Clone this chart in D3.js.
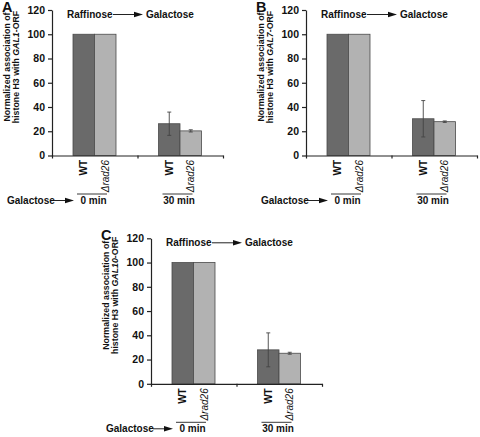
<!DOCTYPE html>
<html><head><meta charset="utf-8">
<script src="https://cdn.jsdelivr.net/npm/d3@7"></script>
<style>
html,body{margin:0;padding:0;background:#fff;}
text{font-family:Arial,"Liberation Sans",sans-serif;}
</style></head>
<body><svg id="c" width="480" height="437"></svg>
<script>
// ---- data ----
const categories = ["0 min", "30 min"];
const strains = ["WT", "Δrad26"];
const panelLetters = ["A", "B", "C"];
const genes = ["GAL1", "GAL7", "GAL10"];
const yTicks = [0, 20, 40, 60, 80, 100, 120];
// values per panel: [0 min, 30 min]
const gal1WT = [100, 26.2], gal1WTErr = [0, 9.6];
const gal1Rad26 = [100, 20.3], gal1Rad26Err = [0, 0.9];
const gal7WT = [100, 30.3], gal7WTErr = [0, 15];
const gal7Rad26 = [100, 27.9], gal7Rad26Err = [0, 0.6];
const gal10WT = [100, 28], gal10WTErr = [0, 14];
const gal10Rad26 = [100, 25.2], gal10Rad26Err = [0, 0.8];

const panels = [
  {letter: panelLetters[0], gene: genes[0], wt: gal1WT, wtE: gal1WTErr, rd: gal1Rad26, rdE: gal1Rad26Err, ox: 0, oy: 0},
  {letter: panelLetters[1], gene: genes[1], wt: gal7WT, wtE: gal7WTErr, rd: gal7Rad26, rdE: gal7Rad26Err, ox: 254, oy: 0},
  {letter: panelLetters[2], gene: genes[2], wt: gal10WT, wtE: gal10WTErr, rd: gal10Rad26, rdE: gal10Rad26Err, ox: 99, oy: 228.3}
];

const colors = {"WT": "#6a6a6a", "Δrad26": "#b2b2b2"};
const svg = d3.select("#c");

function arrow(g, x1, x2, y) {
  g.append("line").attr("x1", x1).attr("x2", x2 - 8).attr("y1", y).attr("y2", y)
    .attr("stroke", "#222").attr("stroke-width", 1);
  g.append("path").attr("d", `M${x2 - 9},${y - 2.8}L${x2},${y}L${x2 - 9},${y + 2.8}Z`).attr("fill", "#111");
}

panels.forEach(p => {
  const g = svg.append("g").attr("transform", `translate(${p.ox},${p.oy})`);
  const x0 = 52, x1 = 223, yTop = 10, yBot = 155.5;
  const x = d3.scaleBand().domain(categories).range([x0, x1]);
  const xs = d3.scaleBand().domain(strains).range([21, 64]);
  const y = d3.scaleLinear().domain([0, 120]).range([yBot, yTop]);

  // panel letter
  g.append("text").attr("x", 2).attr("y", 12).attr("font-size", 14.5).attr("font-weight", "bold").attr("fill", "#111").text(p.letter);

  // bars
  const rows = [];
  categories.forEach((c, i) => {
    rows.push({c, s: strains[0], v: p.wt[i], e: p.wtE[i]});
    rows.push({c, s: strains[1], v: p.rd[i], e: p.rdE[i]});
  });
  g.selectAll("rect.bar").data(rows).enter().append("rect").attr("class", "bar")
    .attr("x", d => x(d.c) + xs(d.s)).attr("width", xs.bandwidth())
    .attr("y", d => y(d.v)).attr("height", d => y(0) - y(d.v))
    .attr("fill", d => colors[d.s]).attr("stroke", "#4a4a4a").attr("stroke-width", 0.8);

  // error bars
  const eb = rows.filter(d => d.e > 0);
  eb.forEach(d => {
    const cx = x(d.c) + xs(d.s) + xs.bandwidth() / 2;
    g.append("line").attr("x1", cx).attr("x2", cx).attr("y1", y(d.v + d.e)).attr("y2", y(d.v - d.e)).attr("stroke", "#444").attr("stroke-width", 0.9);
    [d.v + d.e, d.v - d.e].forEach(v => g.append("line").attr("x1", cx - 2).attr("x2", cx + 2).attr("y1", y(v)).attr("y2", y(v)).attr("stroke", "#444").attr("stroke-width", 0.9));
  });

  // y axis
  const ya = g.append("g").attr("transform", `translate(${x0},0)`)
    .call(d3.axisLeft(y).tickValues(yTicks).tickSize(4).tickSizeOuter(0).tickPadding(3));
  ya.select(".domain").attr("stroke", "#222").attr("stroke-width", 1.2);
  ya.selectAll(".tick line").attr("stroke", "#222").attr("stroke-width", 1.2);
  ya.selectAll(".tick text").attr("font-size", 10.5).attr("font-weight", "bold").attr("fill", "#111").style("font-family", "Arial, 'Liberation Sans', sans-serif");

  // x axis
  const xa = g.append("g").attr("transform", `translate(0,${yBot})`)
    .call(d3.axisBottom(d3.scaleLinear().domain([0, 2]).range([x0, x1])).tickValues([0, 1, 2]).tickSize(3).tickSizeOuter(0).tickFormat(""));
  xa.select(".domain").attr("stroke", "#222").attr("stroke-width", 1.2);
  xa.selectAll(".tick line").attr("stroke", "#222").attr("stroke-width", 1.2);

  // y label
  const yl = g.append("text").attr("transform", "translate(0,67) rotate(-90)").attr("text-anchor", "middle")
    .attr("font-size", 8.8).attr("font-weight", "bold").attr("fill", "#111");
  yl.append("tspan").attr("x", 0).attr("y", 9.5).text("Normalized association of");
  const t2 = yl.append("tspan").attr("x", 0).attr("y", 18.5);
  t2.append("tspan").text("histone H3 with ");
  t2.append("tspan").attr("font-style", "italic").text(p.gene);
  t2.append("tspan").text("-ORF");

  // title
  g.append("text").attr("x", 67).attr("y", 18).attr("font-size", 10).attr("font-weight", "bold").attr("fill", "#111").text("Raffinose");
  arrow(g, 113, 143, 14.5);
  g.append("text").attr("x", 146).attr("y", 18).attr("font-size", 10).attr("font-weight", "bold").attr("fill", "#111").text("Galactose");

  // strain labels
  rows.forEach(d => {
    const cx = x(d.c) + xs(d.s) + xs.bandwidth() / 2;
    const t = g.append("text").attr("transform", `translate(${cx},160) rotate(-90)`).attr("text-anchor", "end").attr("dy", "0.36em")
      .attr("font-size", 10).attr("fill", "#111");
    if (d.s === "WT") t.attr("font-weight", "bold").text(d.s);
    else t.attr("font-style", "italic").text(d.s);
  });

  // category labels with underline
  categories.forEach(c => {
    const b = x(c);
    g.append("line").attr("x1", b + 25).attr("x2", b + 55).attr("y1", 194).attr("y2", 194).attr("stroke", "#222").attr("stroke-width", 0.9);
    g.append("text").attr("x", b + 41.5).attr("y", 204).attr("text-anchor", "middle").attr("font-size", 10).attr("font-weight", "bold").attr("fill", "#111").text(c);
  });
  g.append("text").attr("x", 7).attr("y", 204).attr("font-size", 10).attr("font-weight", "bold").attr("fill", "#111").text("Galactose");
  arrow(g, 54, 74, 200.5);
});
</script></body></html>
